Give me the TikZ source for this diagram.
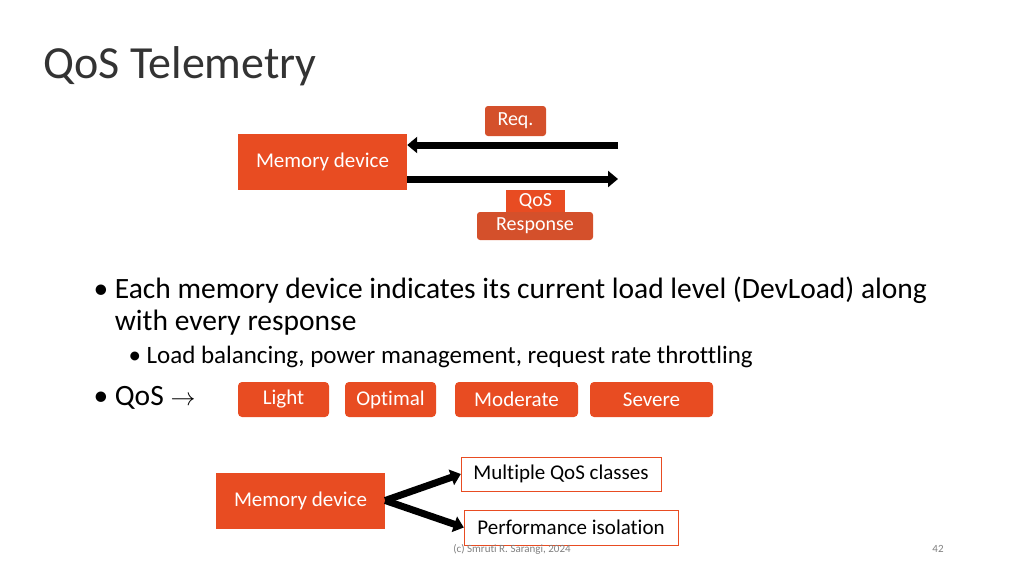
\documentclass[tikz,border=0pt]{standalone}
\usepackage{fontspec}
\setmainfont{Carlito}[Ligatures = NoCommon]
\usetikzlibrary{positioning,arrows.meta}
\definecolor{boxorange}{HTML}{E84C22}
\definecolor{tagorange}{HTML}{D4502B}
\tikzset{
  dev/.style = {fill = boxorange, text = white, minimum width = 169pt, minimum height = 56pt, font = \fontsize{21}{24}\selectfont},
  tag/.style = {fill = tagorange, text = white, rounded corners = 3pt, font = \fontsize{20}{23}\selectfont},
  level/.style = {fill = boxorange, text = white, rounded corners = 4pt, minimum height = 35pt, font = \fontsize{21}{24}\selectfont},
  outbox/.style = {draw = boxorange, fill = white, minimum height = 34pt, font = \fontsize{21}{24}\selectfont},
  fat/.style = {line width = 7pt, -{Triangle[length=10pt,width=16pt]}}
}
\begin{document}
\begin{tikzpicture}[x = 1pt, y = -1pt]
\useasboundingbox (0,0) rectangle (1024,576);

\node[anchor = west, font = \fontsize{46}{52}\selectfont, text = black!80] (title) at (40,66) {QoS Telemetry};

% top exchange
\node[dev] (m1) at (322.5,162) {Memory device};
\coordinate (e1) at (618,145);
\coordinate (e2) at (618,179);
\draw[fat] (e1) -- (m1.east |- e1);
\draw[fat] (m1.east |- e2) -- (e2);
\node[tag, minimum width = 61pt, minimum height = 30pt] (req) at (515.5,121) {Req.};
\node[fill = boxorange, text = white, minimum width = 59pt, minimum height = 22pt, inner sep = 0pt, font = \fontsize{20}{23}\selectfont] (qos) at (535.5,201) {QoS};
\node[tag, minimum width = 116pt, minimum height = 28pt] (resp) at (535,226) {Response};

% bullets
\node[anchor = west, font = \fontsize{29.5}{33}\selectfont, align = left] (b1) at (90,306) {\textbullet\ Each memory device indicates its current load level (DevLoad) along\\[-1pt]\hphantom{\textbullet\ }with every response};
\node[anchor = west, font = \fontsize{25}{29}\selectfont] (b2) at (125,357) {\textbullet\ Load balancing, power management, request rate throttling};
\node[anchor = west, font = \fontsize{29.5}{33}\selectfont] (b3) at (90,398) {\textbullet\ QoS \textbf{$\rightarrow$}};

\node[level, minimum width = 91pt] (light) at (283.5,399.5) {Light};
\node[level, minimum width = 91pt] (optimal) at (390.5,399.5) {Optimal};
\node[level, minimum width = 123pt] (moderate) at (516.5,399.5) {Moderate};
\node[level, minimum width = 123pt] (severe) at (651.5,399.5) {Severe};

% bottom fan-out
\node[dev] (m2) at (300.5,500.5) {Memory device};
\node[outbox, minimum width = 200pt] (multi) at (561,474) {Multiple QoS classes};
\node[outbox, minimum width = 214pt, minimum height = 35pt] (perf) at (571,527.5) {Performance isolation};
\draw[fat] (m2.east) -- (multi.west);
\draw[fat] (m2.east) -- (perf.west);

\node[font = \fontsize{11}{13}\selectfont, text = black!50] (foot) at (512,549) {(c) Smruti R. Sarangi, 2024};
\node[font = \fontsize{11}{13}\selectfont, text = black!50] (page) at (938,549) {42};
\end{tikzpicture}
\end{document}
